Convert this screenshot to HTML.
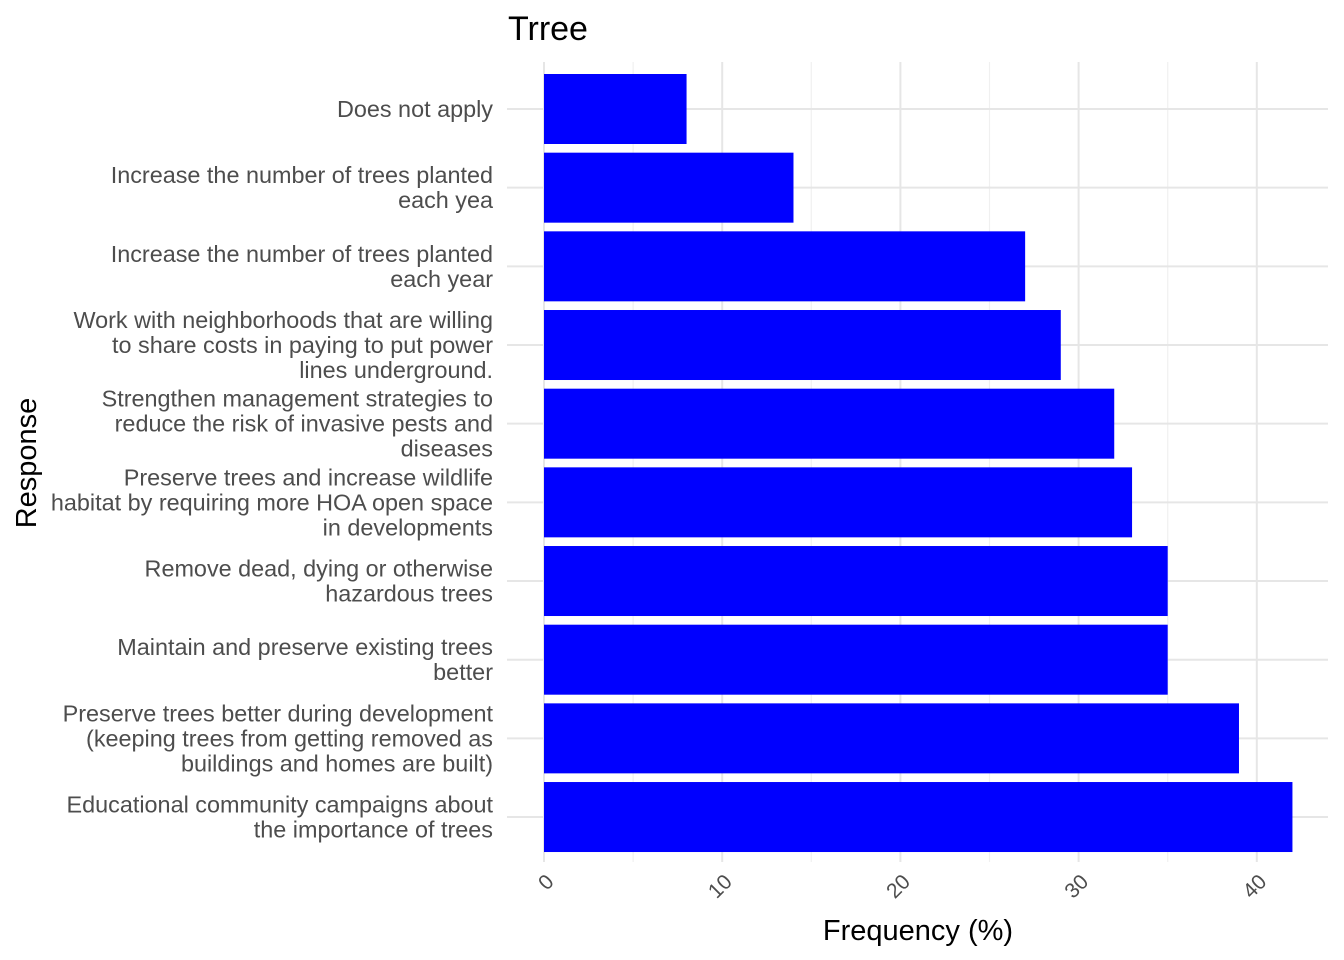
<!DOCTYPE html>
<html><head><meta charset="utf-8"><style>
body{margin:0;background:#fff;}
svg{display:block;font-family:"Liberation Sans",Arial,sans-serif;}
</style></head><body>
<svg id="chart" width="1344" height="960">
<text x="508" y="40" font-size="34" fill="#000">Trree</text>
<text x="918" y="940" font-size="29" fill="#000" text-anchor="middle">Frequency (%)</text>
<text transform="translate(36,463) rotate(-90)" font-size="29" fill="#000" text-anchor="middle">Response</text>
<g id="grid"></g><g id="bars"></g><g id="ylabels"></g><g id="xlabels"></g>
</svg>
<script>
const categories=[
["Does not apply"],
["Increase the number of trees planted","each yea"],
["Increase the number of trees planted","each year"],
["Work with neighborhoods that are willing","to share costs in paying to put power","lines underground."],
["Strengthen management strategies to","reduce the risk of invasive pests and","diseases"],
["Preserve trees and increase wildlife","habitat by requiring more HOA open space","in developments"],
["Remove dead, dying or otherwise","hazardous trees"],
["Maintain and preserve existing trees","better"],
["Preserve trees better during development","(keeping trees from getting removed as","buildings and homes are built)"],
["Educational community campaigns about","the importance of trees"]
];
const values=[8,14,27,29,32,33,35,35,39,42];
const xTicks=[0,10,20,30,40];
const xMinor=[5,15,25,35];
const NS="http://www.w3.org/2000/svg";
const x=v=>544+v*17.82;
const y=i=>109+i*78.67;
const bh=70;
function mk(t,a,p){const e=document.createElementNS(NS,t);for(const k in a)e.setAttribute(k,a[k]);p.appendChild(e);return e;}
const g=document.getElementById('grid'),b=document.getElementById('bars'),yl=document.getElementById('ylabels'),xl=document.getElementById('xlabels');
xMinor.forEach(v=>{const l=mk('line',{x1:x(v),x2:x(v),y1:62,y2:862,stroke:'#f0f0f0','stroke-width':1.2},g);

});
xTicks.forEach(v=>{const l=mk('line',{x1:x(v),x2:x(v),y1:62,y2:862,stroke:'#e6e6e6','stroke-width':2},g);


const t=mk('text',{transform:`translate(${x(v)+11},${883}) rotate(-45)`,'font-size':21,fill:'#4d4d4d','text-anchor':'end'},xl);
t.textContent=v;

});
categories.forEach((c,i)=>{const l=mk('line',{x1:507,x2:1328,y1:y(i),y2:y(i),stroke:'#e6e6e6','stroke-width':2},g);


const r=mk('rect',{x:x(0),y:y(i)-bh/2,width:x(values[i])-x(0),height:bh,fill:'#0000ff'},b);


const n=c.length,lh=25,y0=y(i)-(n-1)*lh/2+8;
c.forEach((s,j)=>{const t=mk('text',{x:493,y:y0+j*lh,'font-size':23.4,fill:'#4d4d4d','text-anchor':'end'},yl);
t.textContent=s;

});});
</script>
</body></html>
